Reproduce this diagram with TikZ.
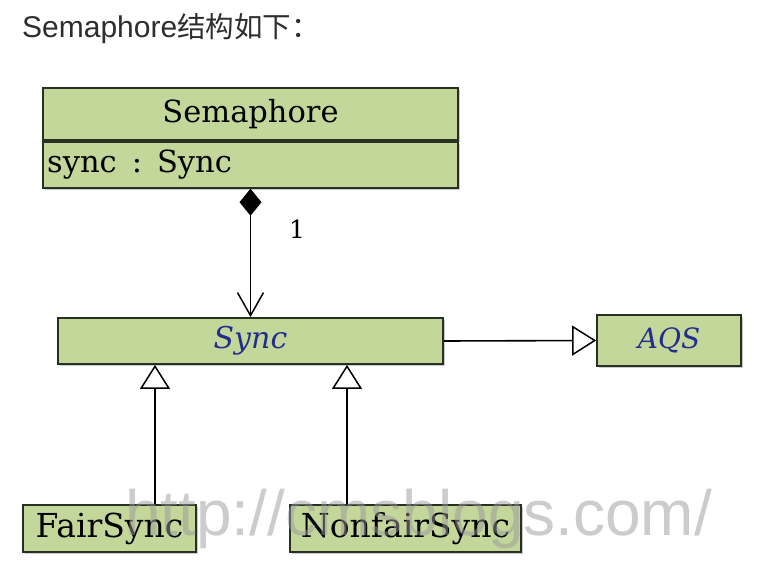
\documentclass[tikz,border=0pt]{standalone}
\usepackage{fontspec}
\setmainfont{DejaVu Serif}
\newfontfamily\titlefont{Liberation Sans}
\newfontfamily\cjk{Noto Sans CJK SC}
\usetikzlibrary{arrows.meta,shadows}
\definecolor{boxfill}{RGB}{196,215,155}
\definecolor{boxline}{RGB}{40,48,36}
\definecolor{absblue}{RGB}{35,45,140}
\definecolor{titlegray}{RGB}{45,45,45}
\tikzset{
  umlbox/.style={rectangle, draw=boxline, fill=boxfill, line width=1.8pt, inner sep=0pt,
    drop shadow={shadow xshift=1.8pt, shadow yshift=-1.8pt, fill=black!45, opacity=0.45}},
  conn/.style={line width=1.6pt, draw=black},
  inh/.style={conn, -{Triangle[open, length=24pt, width=30pt, fill=white, line width=1.5pt]}},
  comp/.style={conn, {Diamond[length=27pt, width=22pt]}-{Straight Barb[length=23pt, width=26pt, line width=1.5pt]}},
  bigtxt/.style={font=\fontsize{30.5}{36}\selectfont},
  subtxt/.style={font=\fontsize{33}{38}\selectfont},
}
\begin{document}
\begin{tikzpicture}[x=1pt, y=-1pt]
\useasboundingbox (0,0) rectangle (778,572);

\node[anchor=base west, inner sep=0pt, text=titlegray] (title) at (22,38)
  {\titlefont\fontsize{30}{36}\selectfont Semaphore\cjk\fontsize{28.5}{34}\selectfont 结构如下：};

\node[umlbox, minimum width=415pt, minimum height=52pt, bigtxt] (sema) at (250.5,114) {Semaphore};
\node[umlbox, minimum width=415pt, minimum height=46pt, anchor=north] (semattr) at (sema.south) {};
\node[anchor=base west, inner sep=0pt, bigtxt] (attrtext) at (47,172) {sync\hspace{15pt}:\hspace{15pt}Sync};

\node[umlbox, minimum width=385pt, minimum height=46pt, text=absblue,
      font=\fontsize{30}{36}\selectfont\itshape] (sync) at (250.5,341) {Sync};
\node[umlbox, minimum width=144pt, minimum height=51pt, text=absblue,
      font=\fontsize{28}{34}\selectfont\itshape] (aqs) at (669,340.5) {AQS};

\node[umlbox, minimum width=173pt, minimum height=47pt, subtxt] (fair) at (109.5,528.5) {FairSync};
\node[umlbox, minimum width=231pt, minimum height=47pt, subtxt] (nonfair) at (405.5,528.5) {NonfairSync};

\draw[comp] (semattr.south) -- (sync.north);
\node[font=\fontsize{25}{30}\selectfont] (mult) at (297,229) {1};

\draw[inh] (sync.east) -- (aqs.west);
\draw[inh] (fair.north -| 155,0) -- (sync.south -| 155,0);
\draw[inh] (nonfair.north -| 347,0) -- (sync.south -| 347,0);

\node[anchor=base west, inner sep=0pt, text=black!40, opacity=0.5] (wm) at (125,535)
  {\titlefont\fontsize{64}{70}\selectfont http://cmsblogs.com/};
\end{tikzpicture}
\end{document}
